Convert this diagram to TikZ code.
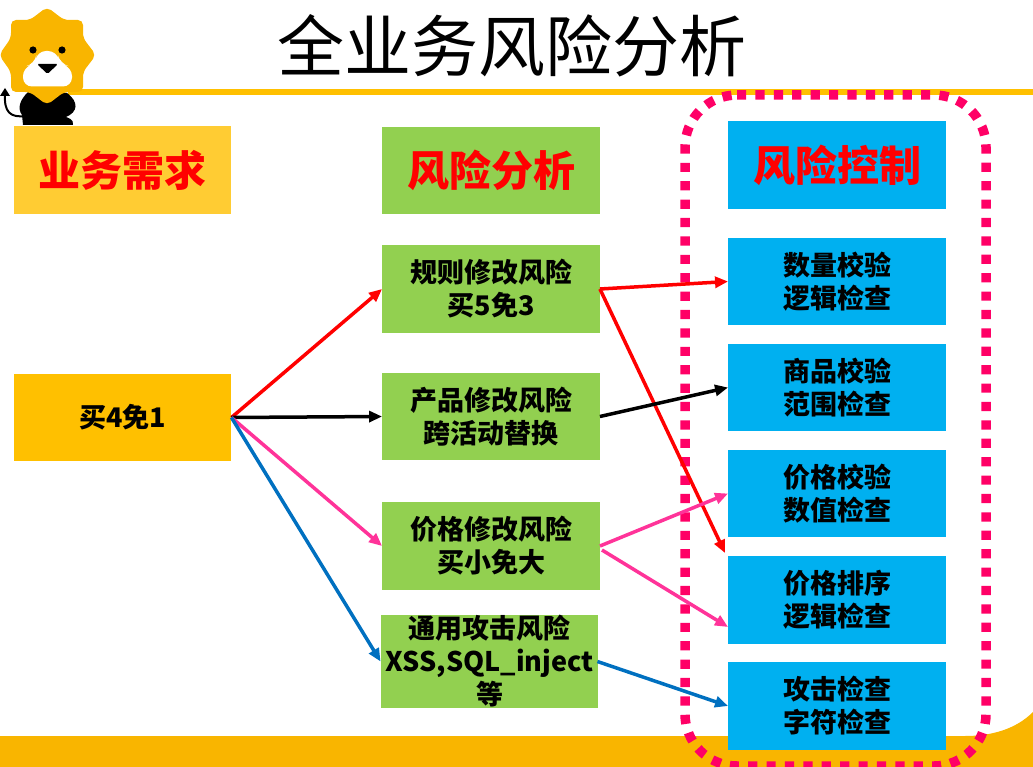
\documentclass[tikz,border=0pt]{standalone}
\usepackage{fontspec}
\setmainfont{Noto Sans CJK SC}
\usetikzlibrary{arrows.meta,calc}
\definecolor{lionorange}{HTML}{F9B500}
\definecolor{lineorange}{HTML}{FFC000}
\definecolor{headyellow}{HTML}{FFCC33}
\definecolor{boxgreen}{HTML}{92D050}
\definecolor{boxblue}{HTML}{00B0F0}
\definecolor{dotpink}{HTML}{FF0066}
\definecolor{arrowpink}{HTML}{FF3399}
\definecolor{arrowblue}{HTML}{0070C0}
\tikzset{
  x=1pt,y=-1pt,
  basebox/.style={minimum width=217.5pt,minimum height=87.5pt,inner sep=0pt,align=center,font=\fontsize{27}{33}\selectfont\bfseries},
  greenbox/.style={basebox,fill=boxgreen},
  bluebox/.style={basebox,fill=boxblue},
  headtext/.style={text=red,font=\fontsize{42}{50}\selectfont\bfseries},
  conn/.style={line width=3.5pt,-{Triangle[length=13pt,width=11pt]},shorten >=0pt},
}
\begin{document}
\begin{tikzpicture}
\useasboundingbox (0,0) rectangle (1033,767);
% bottom band
\fill[lionorange] (0,736) -- (965,736) .. controls (990,736) and (1015,730) .. (1033,712) -- (1033,767) -- (0,767) -- cycle;
% title rule
\fill[lineorange] (68,89) rectangle (1033,95);
\node[font=\fontsize{67}{70}\selectfont,inner sep=0pt] (title) at (511.5,46) {全业务风险分析};
% lion
\begin{scope}
\fill[black] (28,92) .. controls (20,100) and (17,108) .. (22,115) -- (23,125) -- (73,125) .. controls (74,119) and (68,118) .. (66,117) .. controls (78,112) and (79,102) .. (67,93) -- cycle;
\draw[black,line width=2pt] (26,116) .. controls (10,118) and (4,112) .. (5,94);
\fill[black] (5,88) -- (10,96) -- (0,96) -- cycle;
\fill[lionorange,rounded corners=5pt] (47,7) -- (64,20) -- (83,20) -- (83,38) -- (96,55) -- (83,72) -- (83,92) -- (64,92) -- (47,105) -- (30,92) -- (11,92) -- (11,72) -- (-1,55) -- (11,38) -- (11,20) -- (30,20) -- cycle;
\fill[black] (33,50) circle (3.6);
\fill[black] (62,50) circle (3.6);
\fill[white,rounded corners=9pt] (23,86.5) -- (23,67) -- (35,64) -- (37,51) -- (57,51) -- (60,64) -- (72,67) -- (72,86.5) -- cycle;
\fill[black,rounded corners=1.5pt] (37,64) -- (58,64) -- (47.5,74) -- cycle;
\end{scope}
% dotted frame
\draw[dotpink,line width=9.5pt,dash pattern=on 9.2pt off 9.2pt,rounded corners=52pt] (685,95) -- (986,95) -- (986,766) -- (685,766) -- cycle;
% boxes
\node[basebox,fill=headyellow,headtext] (h1) at (122.5,170) {业务需求};
\node[basebox,fill=lineorange] (need) at (122.5,417.5) {买4免1};
\node[greenbox,headtext] (h2) at (491,170.5) {风险分析};
\node[greenbox] (r1) at (491,289) {规则修改风险\\买5免3};
\node[greenbox] (r2) at (491,416.5) {产品修改风险\\跨活动替换};
\node[greenbox] (r3) at (491,546) {价格修改风险\\买小免大};
\node[greenbox] (r4) at (489.5,661.5) {通用攻击风险\\XSS,SQL\_inject\\等};
\node[bluebox,headtext] (h3) at (837,165) {风险控制};
\node[bluebox] (c1) at (837,281.5) {数量校验\\逻辑检查};
\node[bluebox] (c2) at (837,387.5) {商品校验\\范围检查};
\node[bluebox] (c3) at (837,493.5) {价格校验\\数值检查};
\node[bluebox] (c4) at (837,600) {价格排序\\逻辑检查};
\node[bluebox] (c5) at (837,706) {攻击检查\\字符检查};
% connectors
\draw[conn,red] (need.east) -- (r1.west);
\draw[conn,black] (need.east) -- (r2.west);
\draw[conn,arrowpink] (need.east) -- (r3.west);
\draw[conn,arrowblue] (need.east) -- (r4.west);
\draw[conn,red] (r1.east) -- (c1.west);
\draw[conn,red] (r1.east) -- ($(c4.north west)+(-3,-3)$);
\draw[conn,black] (r2.east) -- (c2.west);
\draw[conn,arrowpink] (r3.east) -- (c3.west);
\draw[conn,arrowpink] ($(r3.east)+(2,4)$) -- ($(c4.west)+(0,27)$);
\draw[conn,arrowblue] ($(r4.east)+(-1,0)$) -- (c5.west);
\end{tikzpicture}
\end{document}
